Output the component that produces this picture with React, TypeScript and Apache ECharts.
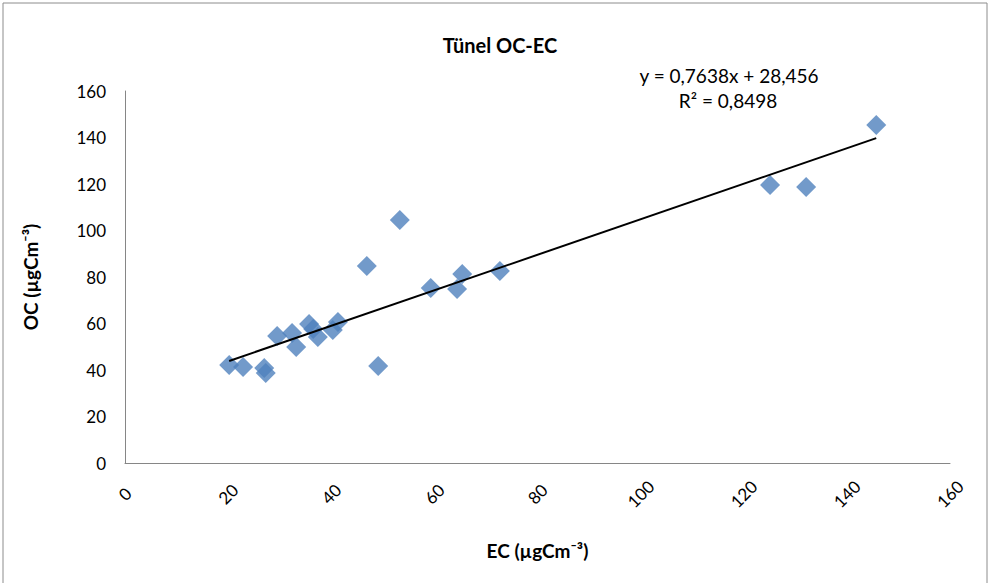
import React, { useEffect, useRef } from "react";
import * as echarts from "echarts";

const titleText = "Tünel OC-EC";
const xAxisName = "EC (µgCm⁻³)";
const yAxisName = "OC (µgCm⁻³)";
const ecValues = [20.2, 22.9, 27.0, 27.3, 29.5, 32.4, 33.2, 35.7, 36.5, 37.4, 40.3, 41.3, 46.9, 49.1, 53.3, 59.3, 64.4, 65.4, 72.7, 125.1, 132.1, 145.7];
const ocValues = [42.1, 41.3, 40.9, 38.7, 54.6, 55.9, 49.9, 59.8, 57.6, 54.2, 57.2, 60.6, 84.7, 41.7, 104.5, 75.3, 74.8, 81.3, 82.6, 119.6, 118.7, 145.4];
const trendSlope = 0.7638;
const trendIntercept = 28.456;
const equationText = "y = 0,7638x + 28,456";
const r2Text = "R² = 0,8498";

const FONT = "Lato, 'Open Sans', sans-serif";

export default function App() {
  const ref = useRef<HTMLDivElement>(null);
  useEffect(() => {
    if (!ref.current) return;
    const chart = echarts.init(ref.current, null, { renderer: "svg" });
    const points = ecValues.map((x, i) => [x, ocValues[i]]);
    const xMin = Math.min(...ecValues);
    const xMax = Math.max(...ecValues);
    const trend = [
      [xMin, trendSlope * xMin + trendIntercept],
      [xMax, trendSlope * xMax + trendIntercept],
    ];
    chart.setOption({
      animation: false,
      backgroundColor: "#ffffff",
      textStyle: { fontFamily: FONT },
      title: {
        text: titleText,
        left: 495,
        top: 30,
        textAlign: "center",
        textStyle: { fontFamily: FONT, fontSize: 20, fontWeight: "bold", color: "#000" },
      },
      graphic: [
        {
          type: "rect",
          shape: { x: 3, y: 3, width: 984, height: 600 },
          style: { fill: "none", stroke: "#8c8c8c", lineWidth: 1 },
          silent: true,
          z: -1,
        },
        {
          type: "text",
          x: 729,
          y: 75,
          style: {
            text: equationText,
            fontFamily: FONT,
            fontSize: 19,
            fill: "#000",
            align: "center",
            verticalAlign: "middle",
          },
        },
        {
          type: "text",
          x: 728,
          y: 100,
          style: {
            text: r2Text,
            fontFamily: FONT,
            fontSize: 19,
            fill: "#000",
            align: "center",
            verticalAlign: "middle",
          },
        },
      ],
      grid: { left: 125, right: 40, top: 91, bottom: 120, containLabel: false },
      xAxis: {
        type: "value",
        min: 0,
        max: 160,
        interval: 20,
        name: xAxisName,
        nameLocation: "middle",
        nameGap: 78,
        nameTextStyle: { fontFamily: FONT, fontSize: 19, fontWeight: "bold", color: "#000" },
        axisLine: { show: true, lineStyle: { color: "#868686", width: 1 } },
        axisTick: { show: false },
        splitLine: { show: false },
        axisLabel: {
          rotate: 45,
          align: "center",
          verticalAlign: "middle",
          margin: 31,
          fontFamily: FONT,
          fontSize: 17,
          color: "#000",
        },
      },
      yAxis: {
        type: "value",
        min: 0,
        max: 160,
        interval: 20,
        name: yAxisName,
        nameLocation: "middle",
        nameGap: 85,
        nameTextStyle: { fontFamily: FONT, fontSize: 19, fontWeight: "bold", color: "#000" },
        axisLine: { show: true, lineStyle: { color: "#868686", width: 1 } },
        axisTick: { show: false },
        splitLine: { show: false },
        axisLabel: { margin: 19, fontFamily: FONT, fontSize: 17, color: "#000" },
      },
      series: [
        {
          type: "scatter",
          data: points,
          symbol: "diamond",
          symbolSize: 20,
          itemStyle: { color: "#4F81BD" },
          z: 2,
        },
        {
          type: "line",
          data: trend,
          symbol: "none",
          lineStyle: { color: "#000", width: 2 },
          z: 3,
        },
      ],
    });
    return () => chart.dispose();
  }, []);
  return (
    <div
      ref={ref}
      style={{ position: "fixed", left: 0, top: 0, width: 990, height: 583 }}
    />
  );
}
